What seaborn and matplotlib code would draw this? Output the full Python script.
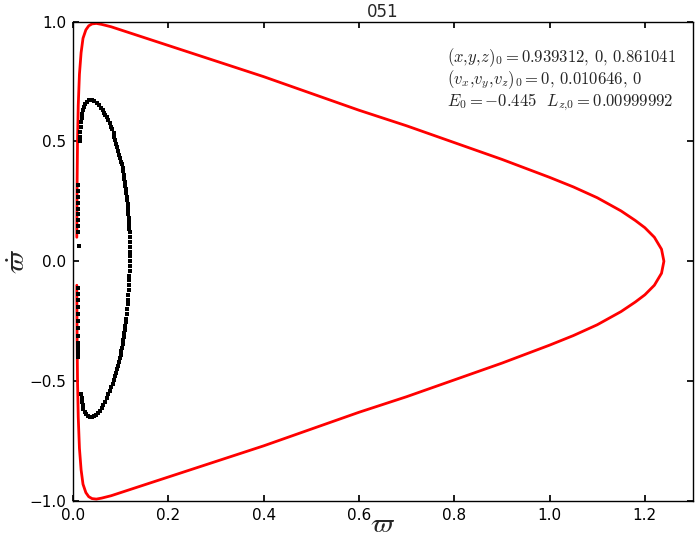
import numpy as np
import pandas as pd
import matplotlib
matplotlib.use("Agg")
import matplotlib.pyplot as plt
import seaborn as sns

# ---------------- data ----------------
title_text = "051"

# zero-velocity curve, upper branch (varpi, varpi_dot)
zvc_x_upper = [0.0080, 0.0085, 0.0095, 0.0110, 0.0135, 0.0170, 0.0210, 0.0270,
               0.0330, 0.0400, 0.0490, 0.0600, 0.0800, 0.1000, 0.2000, 0.3000,
               0.4000, 0.5000, 0.6000, 0.7000, 0.8000, 0.9000, 1.0000, 1.0500,
               1.1000, 1.1500, 1.1800, 1.2000, 1.2200, 1.2350, 1.2400]
zvc_y_upper = [0.100, 0.300, 0.500, 0.650, 0.780, 0.870, 0.930, 0.965,
               0.982, 0.990, 0.992, 0.988, 0.978, 0.965, 0.900, 0.835,
               0.770, 0.700, 0.630, 0.565, 0.495, 0.425, 0.350, 0.310,
               0.265, 0.210, 0.170, 0.140, 0.100, 0.050, 0.000]
# lower branch, from the tip back to the axis
zvc_x_lower = [1.2400, 1.2350, 1.2200, 1.2000, 1.1800, 1.1500, 1.1000, 1.0500,
               1.0000, 0.9000, 0.8000, 0.7000, 0.6000, 0.5000, 0.4000, 0.3000,
               0.2000, 0.1000, 0.0800, 0.0600, 0.0490, 0.0400, 0.0330, 0.0270,
               0.0210, 0.0170, 0.0135, 0.0110, 0.0095, 0.0085, 0.0080]
zvc_y_lower = [0.000, -0.050, -0.100, -0.140, -0.170, -0.210, -0.265, -0.310,
               -0.350, -0.425, -0.495, -0.565, -0.630, -0.700, -0.770, -0.835,
               -0.900, -0.965, -0.978, -0.988, -0.992, -0.990, -0.982, -0.965,
               -0.930, -0.870, -0.780, -0.650, -0.500, -0.300, -0.100]

# surface-of-section points
sos_x = [0.039, 0.045, 0.050, 0.054, 0.058, 0.062, 0.065, 0.068, 0.071, 0.074,
         0.077, 0.080, 0.082, 0.085, 0.087, 0.089, 0.091, 0.093, 0.095, 0.097,
         0.099, 0.101, 0.102, 0.104, 0.105, 0.107, 0.108, 0.109, 0.110, 0.111,
         0.112, 0.113, 0.114, 0.115, 0.115, 0.116, 0.116, 0.117, 0.117, 0.118,
         0.118, 0.119, 0.119, 0.119, 0.119, 0.119, 0.119, 0.119, 0.119, 0.119,
         0.118, 0.118, 0.117, 0.117, 0.116, 0.115, 0.115, 0.114, 0.113, 0.112,
         0.111, 0.110, 0.109, 0.108, 0.107, 0.105, 0.104, 0.103, 0.101, 0.100,
         0.098, 0.097, 0.095, 0.093, 0.091, 0.088, 0.086, 0.083, 0.080, 0.077,
         0.074, 0.071, 0.068, 0.064, 0.060, 0.056, 0.052, 0.048, 0.044, 0.040,
         0.036, 0.032, 0.028, 0.025, 0.022, 0.020, 0.019, 0.018, 0.0175,
         0.034, 0.030, 0.026, 0.023, 0.021, 0.019, 0.018, 0.017, 0.016, 0.015,
         0.0145, 0.014,
         0.010, 0.010, 0.010, 0.010, 0.010, 0.010, 0.010, 0.010, 0.010, 0.010,
         0.010, 0.010, 0.010, 0.010, 0.010, 0.010, 0.010, 0.010, 0.010, 0.010,
         0.010, 0.010, 0.012]
sos_y = [0.673, 0.668, 0.660, 0.650, 0.640, 0.630, 0.620, 0.610, 0.600, 0.588,
         0.575, 0.562, 0.550, 0.535, 0.520, 0.505, 0.490, 0.475, 0.460, 0.445,
         0.430, 0.415, 0.405, 0.390, 0.375, 0.360, 0.345, 0.330, 0.315, 0.300,
         0.285, 0.270, 0.255, 0.240, 0.225, 0.210, 0.195, 0.180, 0.165, 0.150,
         0.135, 0.120, 0.100, 0.080, 0.060, 0.040, 0.020, 0.000, -0.020, -0.040,
         -0.060, -0.080, -0.100, -0.120, -0.140, -0.160, -0.180, -0.200, -0.220, -0.240,
         -0.255, -0.270, -0.285, -0.300, -0.315, -0.330, -0.345, -0.360, -0.375, -0.390,
         -0.405, -0.420, -0.435, -0.450, -0.465, -0.480, -0.495, -0.510, -0.525, -0.540,
         -0.555, -0.570, -0.585, -0.600, -0.612, -0.624, -0.634, -0.641, -0.646, -0.648,
         -0.648, -0.645, -0.638, -0.628, -0.615, -0.600, -0.585, -0.570, -0.555,
         0.671, 0.666, 0.657, 0.645, 0.632, 0.615, 0.598, 0.580, 0.560, 0.540,
         0.520, 0.500,
         0.320, 0.295, 0.270, 0.245, 0.220, 0.195, 0.170, 0.145, 0.120, -0.110,
         -0.135, -0.160, -0.190, -0.220, -0.250, -0.280, -0.310, -0.340, -0.370, -0.400,
         -0.385, -0.355, 0.065]

x_ticks = [0.0, 0.2, 0.4, 0.6, 0.8, 1.0, 1.2]
y_ticks = [-1.0, -0.5, 0.0, 0.5, 1.0]

info_lines = [r"$(x{,}y{,}z)_0=$0.939312, 0, 0.861041",
              r"$(v_x{,}v_y{,}v_z)_0=$0, 0.010646, 0",
              r"$E_0=$$-$0.445  $L_{z{,}0}=$0.00999992"]

# ---------------- style ----------------
sns.set_theme(style="ticks")
plt.rcParams.update({
    "font.family": ["DejaVu Sans"],
    "mathtext.fontset": "cm",
    "xtick.direction": "in",
    "ytick.direction": "in",
    "xtick.top": True,
    "ytick.right": True,
    "axes.edgecolor": "black",
    "axes.linewidth": 1.0,
    "xtick.color": "black",
    "ytick.color": "black",
    "xtick.major.size": 4.5,
    "ytick.major.size": 4.5,
})

fig = plt.figure(figsize=(6.95, 5.39), dpi=100)
ax = fig.add_axes([73 / 695, (539 - 501) / 539, (692.5 - 73) / 695, (501 - 21.5) / 539])

zvc = pd.DataFrame({
    "varpi": zvc_x_upper + zvc_x_lower,
    "varpi_dot": zvc_y_upper + zvc_y_lower,
})
sns.lineplot(data=zvc, x="varpi", y="varpi_dot", sort=False, estimator=None,
             color="#ff0000", linewidth=2.0, ax=ax)

sos = pd.DataFrame({"varpi": sos_x, "varpi_dot": sos_y})
sns.scatterplot(data=sos, x="varpi", y="varpi_dot", color="black", marker="s",
                s=5, linewidth=0, ax=ax, zorder=3)

ax.set_xlim(0, 1.3)
ax.set_ylim(-1.0, 1.0)
ax.set_xticks(x_ticks)
ax.set_yticks(y_ticks)
ax.set_xticklabels([f"{t:.1f}" for t in x_ticks])
ax.set_yticklabels([f"{t:.1f}".replace("-", "\u2212") for t in y_ticks])
ax.tick_params(labelsize=11, pad=5)

ax.set_xlabel(r"$\varpi$", fontsize=20, labelpad=-9)
ax.set_ylabel(r"$\dot{\varpi}$", fontsize=20, labelpad=-1)
ax.set_title(title_text, fontsize=12, pad=3)

for i, line in enumerate(info_lines):
    ax.text(0.785, 0.85 - i * 0.093, line, fontsize=12, family="cmr10",
            ha="left", va="center")

fig.savefig("out.png", dpi=100)
